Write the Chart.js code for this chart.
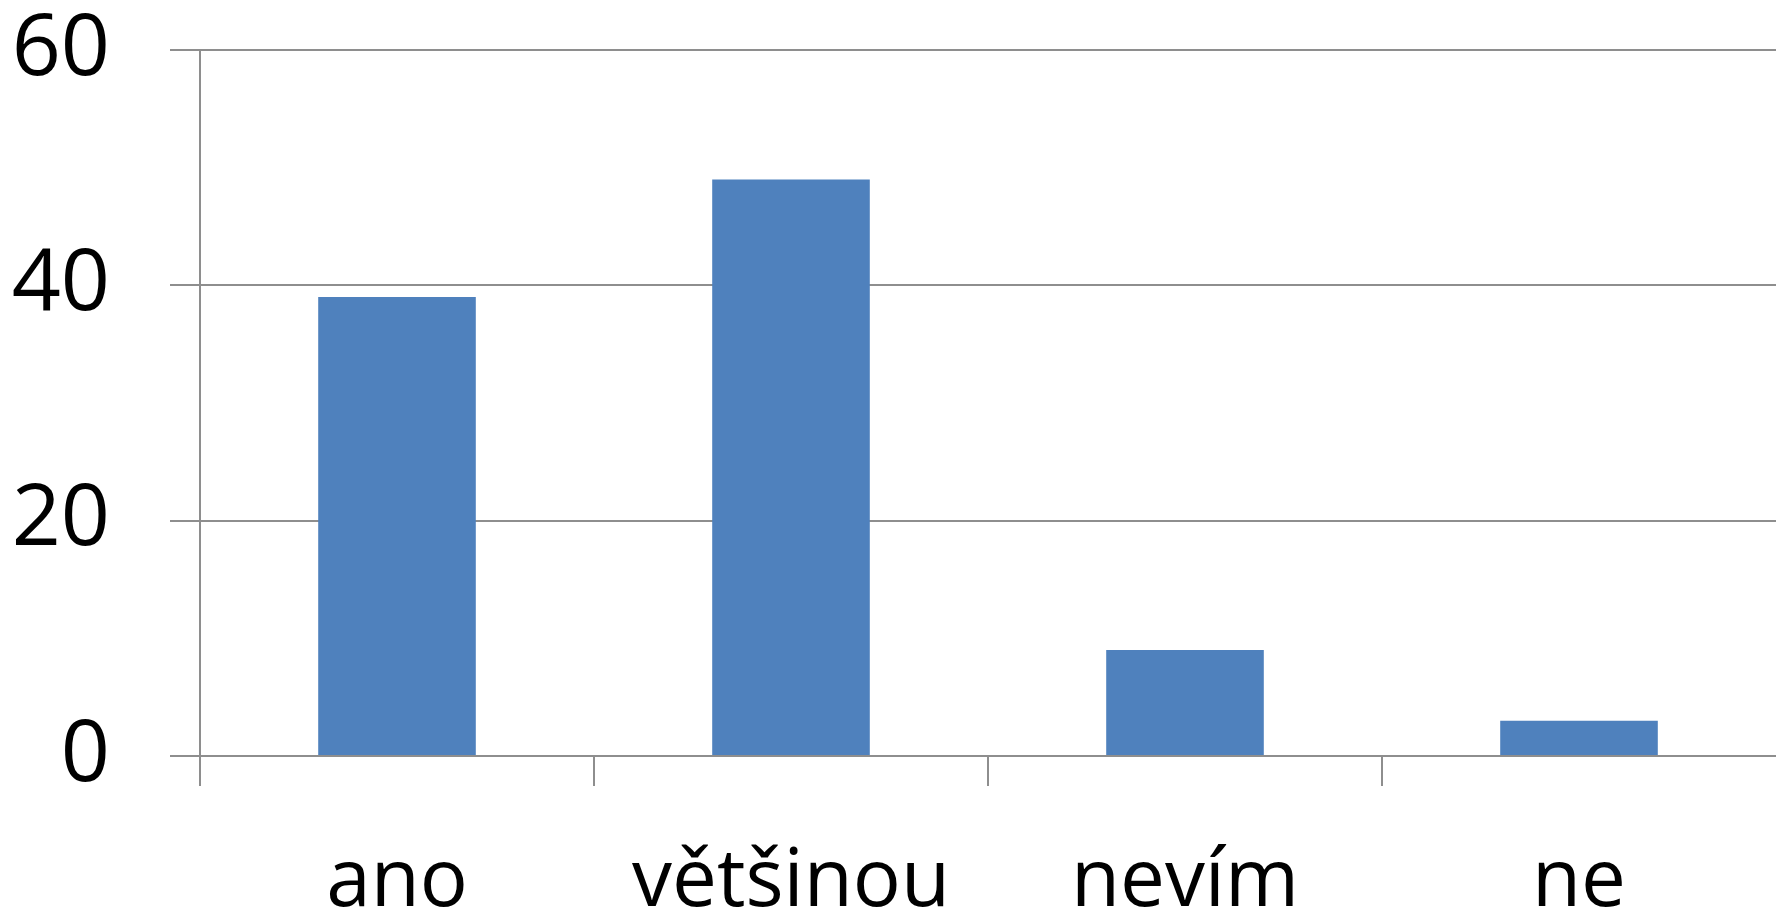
<!DOCTYPE html>
<html>
<head>
<meta charset="utf-8">
<script src="https://cdn.jsdelivr.net/npm/chart.js@4"></script>
<style>
  html, body { margin: 0; padding: 0; background: #fff; }
  #wrap { width: 1776px; height: 915px; }
</style>
</head>
<body>
<div id="wrap"><canvas id="c" width="1776" height="915"></canvas></div>
<script>
// answers and counts
const categories = ['ano', 'většinou', 'nevím', 'ne'];
const counts = [39, 49, 9, 3];
const yTicks = [0, 20, 40, 60];

const gridGrey = '#8e8e8e';
const family = '"Open Sans", sans-serif';

new Chart(document.getElementById('c'), {
  type: 'bar',
  data: {
    labels: categories,
    datasets: [{
      data: counts,
      backgroundColor: '#4f81bd',
      borderWidth: 0,
      categoryPercentage: 0.4,
      barPercentage: 1,
    }],
  },
  options: {
    responsive: false,
    animation: false,
    layout: { padding: 0 },
    plugins: { legend: { display: false }, tooltip: { enabled: false } },
    scales: {
      x: {
        offset: true,
        grid: {
          offset: true, drawOnChartArea: false, lineWidth: 2, tickLength: 30,
          // right-most boundary tick gets the scale context; it is cut off in the original
          color: (ctx) => ctx.type === 'tick' ? gridGrey : 'rgba(0,0,0,0)',
        },
        border: { display: false },
        ticks: { color: '#000', font: { family, size: 80 }, padding: 49, maxRotation: 0 },
        afterFit: (s) => { s.height = 159; s.paddingLeft = 0; s.paddingRight = 0; },
      },
      y: {
        min: 0, max: 60,
        afterBuildTicks: (s) => { s.ticks = yTicks.map(v => ({ value: v })); },
        grid: { color: gridGrey, lineWidth: 2, tickLength: 30 },
        border: { display: true, color: gridGrey, width: 2 },
        ticks: { color: '#000', font: { family, size: 86 }, padding: 60 },
        afterFit: (s) => { s.width = 200; s.paddingTop = 50; s.paddingBottom = 0; },
      },
    },
  },
});
</script>
</body>
</html>
